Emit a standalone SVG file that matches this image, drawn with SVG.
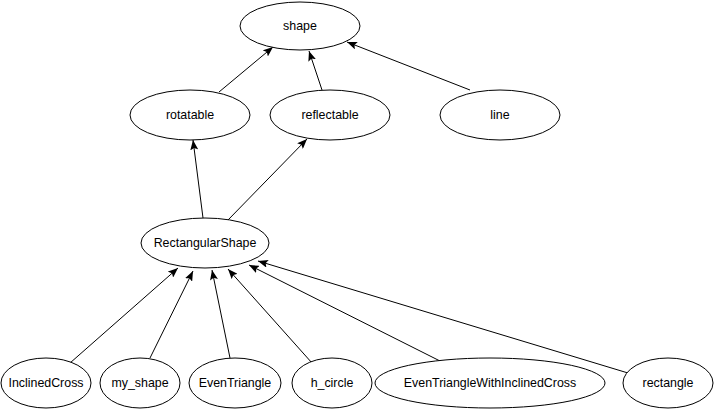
<svg xmlns="http://www.w3.org/2000/svg" width="715" height="411" viewBox="0 0 715 411">
<style>
.n ellipse{fill:#fff;stroke:#000;stroke-width:1}
.n text{font-family:"Liberation Sans",Arial,sans-serif;font-size:12.4px;fill:#000;text-anchor:middle;dominant-baseline:central}
.e line{stroke:#000;stroke-width:1}
</style>
<defs>
<marker id="arr" markerWidth="10" markerHeight="8" refX="10" refY="4" orient="auto" markerUnits="userSpaceOnUse">
<path d="M0,0 L10,4 L0,8 L2,4 z" fill="#000"/>
</marker>
</defs>
<rect width="715" height="411" fill="#fff"/>
<g id="connectors" class="e">
<line x1="219" y1="92" x2="273" y2="47" marker-end="url(#arr)"/>
<line x1="322" y1="90" x2="309" y2="51" marker-end="url(#arr)"/>
<line x1="470" y1="90" x2="347" y2="42" marker-end="url(#arr)"/>
<line x1="203" y1="218" x2="193" y2="140" marker-end="url(#arr)"/>
<line x1="228" y1="220" x2="307" y2="139" marker-end="url(#arr)"/>
<line x1="70" y1="363" x2="178" y2="268" marker-end="url(#arr)"/>
<line x1="150" y1="358" x2="193" y2="271" marker-end="url(#arr)"/>
<line x1="230" y1="358" x2="212" y2="270" marker-end="url(#arr)"/>
<line x1="312" y1="363" x2="228" y2="269" marker-end="url(#arr)"/>
<line x1="442" y1="362" x2="249" y2="265" marker-end="url(#arr)"/>
<line x1="628" y1="373" x2="258" y2="261" marker-end="url(#arr)"/>
</g>
<g id="shape" class="n"><ellipse cx="300" cy="26" rx="60" ry="24"/><text x="300" y="26">shape</text></g>
<g id="rotatable" class="n"><ellipse cx="190" cy="115" rx="60" ry="25"/><text x="190" y="115">rotatable</text></g>
<g id="reflectable" class="n"><ellipse cx="330" cy="115" rx="60" ry="25"/><text x="330" y="115">reflectable</text></g>
<g id="line" class="n"><ellipse cx="500" cy="115" rx="60" ry="25"/><text x="500" y="115">line</text></g>
<g id="RectangularShape" class="n"><ellipse cx="205" cy="243" rx="64" ry="25"/><text x="205" y="243">RectangularShape</text></g>
<g id="InclinedCross" class="n"><ellipse cx="46" cy="383" rx="45" ry="25"/><text x="46" y="383">InclinedCross</text></g>
<g id="my_shape" class="n"><ellipse cx="140" cy="383" rx="40" ry="25"/><text x="140" y="383">my_shape</text></g>
<g id="EvenTriangle" class="n"><ellipse cx="235" cy="383" rx="46" ry="25"/><text x="235" y="383">EvenTriangle</text></g>
<g id="h_circle" class="n"><ellipse cx="332" cy="383" rx="40" ry="25"/><text x="332" y="383">h_circle</text></g>
<g id="EvenTriangleWithInclinedCross" class="n"><ellipse cx="490" cy="383" rx="115" ry="25"/><text x="490" y="383">EvenTriangleWithInclinedCross</text></g>
<g id="rectangle" class="n"><ellipse cx="668" cy="383" rx="45" ry="25"/><text x="668" y="383">rectangle</text></g>
</svg>
